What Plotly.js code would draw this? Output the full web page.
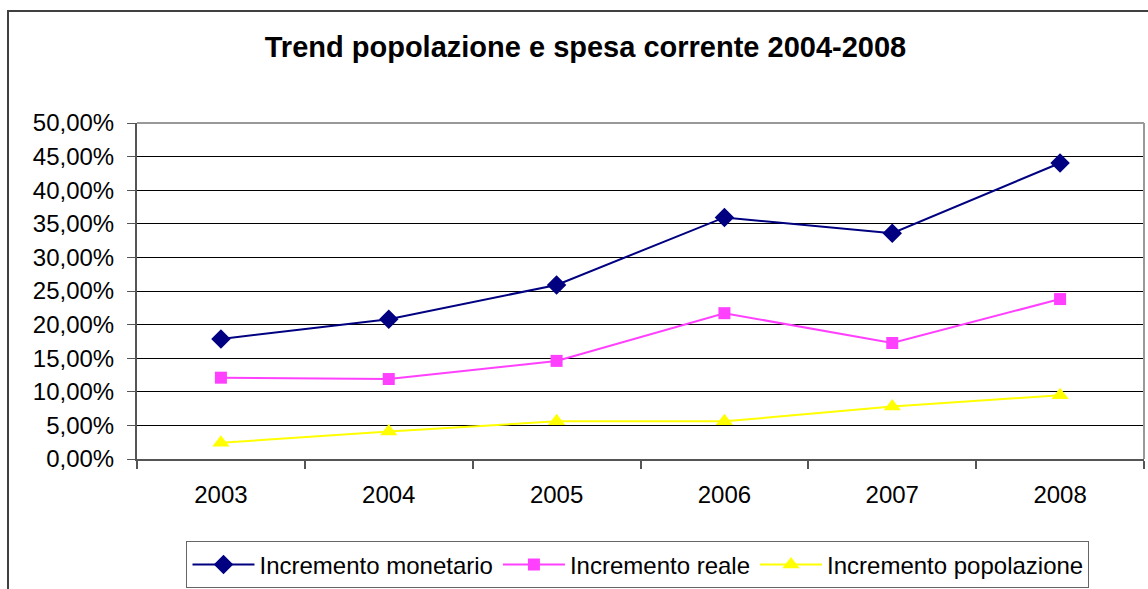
<!DOCTYPE html>
<html>
<head>
<meta charset="utf-8">
<script src="https://cdn.plot.ly/plotly-3.0.1.min.js"></script>
<style>html,body{margin:0;padding:0;background:#fff;}#chart{width:1148px;height:589px;}</style>
</head>
<body>
<div id="chart"></div>
<script>
const years = ['2003', '2004', '2005', '2006', '2007', '2008'];
const incrementoMonetario = [0.1786, 0.2080, 0.2590, 0.3595, 0.3360, 0.4405];
const incrementoReale = [0.1210, 0.1190, 0.1460, 0.2170, 0.1726, 0.2380];
const incrementoPopolazione = [0.0240, 0.0410, 0.0560, 0.0560, 0.0780, 0.0950];
const seriesNames = ['Incremento monetario', 'Incremento reale', 'Incremento popolazione'];
const titleText = 'Trend popolazione e spesa corrente 2004-2008';

const FONT = 'Liberation Sans, Arial, sans-serif';

const traces = [
  {x: years, y: incrementoMonetario, name: seriesNames[0], type: 'scatter', mode: 'lines+markers',
   line: {color: '#000080', width: 2}, marker: {symbol: 'diamond', size: 15, color: '#000080'}},
  {x: years, y: incrementoReale, name: seriesNames[1], type: 'scatter', mode: 'lines+markers',
   line: {color: '#FF40FF', width: 2}, marker: {symbol: 'square', size: 12, color: '#FF40FF'}},
  {x: years, y: incrementoPopolazione, name: seriesNames[2], type: 'scatter', mode: 'lines+markers',
   line: {color: '#FFFF00', width: 2}, marker: {symbol: 'triangle-up', size: 15, color: '#FFFF00'}}
];

const layout = {
  width: 1148, height: 589,
  margin: {l: 137, r: 4, t: 123, b: 130, autoexpand: false},
  paper_bgcolor: '#ffffff', plot_bgcolor: '#ffffff',
  separators: ',.',
  font: {family: FONT, color: '#000'},
  title: {text: '<b>' + titleText + '</b>', font: {family: FONT, size: 29, color: '#000'},
          x: 0.51, xanchor: 'center', y: 0.92, yanchor: 'middle'},
  showlegend: true,
  legend: {orientation: 'h', x: 0.4975, xanchor: 'center', y: -0.245, yanchor: 'top',
           bordercolor: '#666', borderwidth: 1, font: {family: FONT, size: 24, color: '#000'},
           itemwidth: 62, tracegroupgap: 0},
  xaxis: {type: 'category', range: [-0.5, 5.5], showgrid: false, zeroline: false,
          showline: true, linecolor: '#555', linewidth: 2,
          ticks: 'outside', tickson: 'boundaries', ticklen: 8, tickcolor: '#555', tickwidth: 2,
          tickfont: {family: FONT, size: 24, color: '#000'}, ticklabelstandoff: 13},
  yaxis: {range: [0, 0.5], dtick: 0.05, tickformat: '.2%', showgrid: true, gridcolor: '#000', gridwidth: 1,
          zeroline: false, showline: true, linecolor: '#555', linewidth: 2,
          ticks: 'outside', ticklen: 8, tickcolor: '#555', tickwidth: 1,
          tickfont: {family: FONT, size: 24, color: '#000'}, ticklabelstandoff: 8},
  shapes: [
    {type: 'line', xref: 'paper', yref: 'paper', x0: 0, x1: 1, y0: 1, y1: 1, line: {color: '#999', width: 2}, layer: 'above'},
    {type: 'line', xref: 'paper', yref: 'paper', x0: 1, x1: 1, y0: 0, y1: 1, line: {color: '#999', width: 2}, layer: 'above'},
    {type: 'rect', xref: 'paper', yref: 'paper', x0: -0.1281, x1: 1.2, y0: -0.6, y1: 1.333, line: {color: '#404040', width: 2}, layer: 'above'}
  ]
};

Plotly.newPlot('chart', traces, layout, {staticPlot: true, displayModeBar: false});
</script>
</body>
</html>
